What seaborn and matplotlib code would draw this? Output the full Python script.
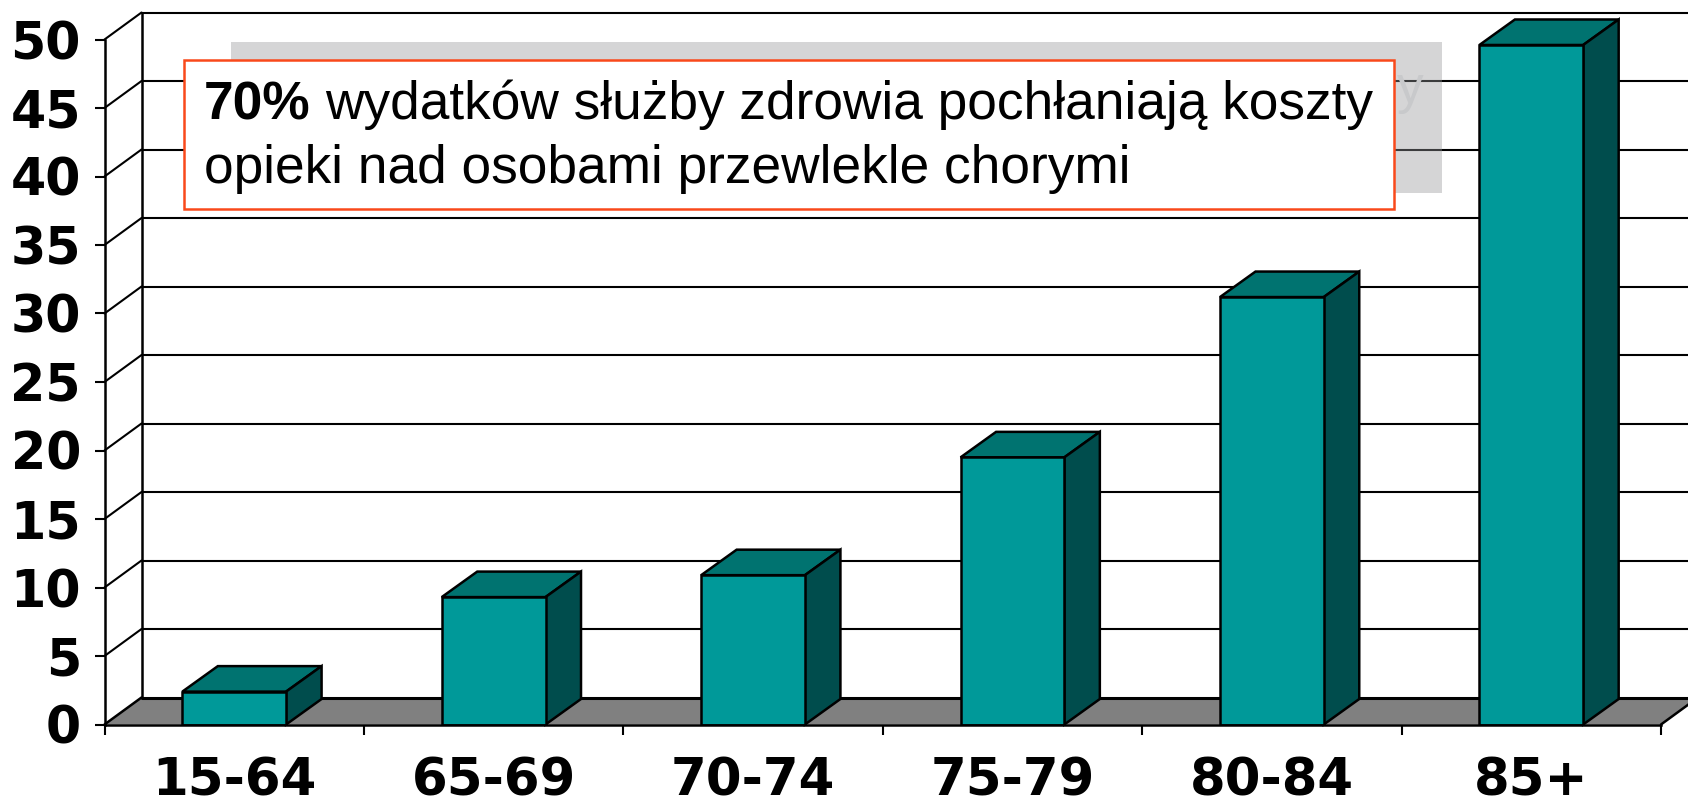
import matplotlib
matplotlib.use("Agg")
import matplotlib.pyplot as plt
from matplotlib.patches import Polygon, Rectangle
import seaborn as sns
import pandas as pd

categories = ["15-64", "65-69", "70-74", "75-79", "80-84", "85+"]
values = [2.4, 9.3, 10.9, 19.5, 31.2, 49.6]
yticks = list(range(0, 55, 5))
note_bold = "70%"
note_line1 = "wydatków służby zdrowia pochłaniają koszty"
note_line2 = "opieki nad osobami przewlekle chorymi"

W, H = 1688, 797
L, R, T, B = 104.5, 1661, 39.5, 724.5
FRONT, TOP, SIDE, FLOOR = "#009999", "#007370", "#004D4D", "#808080"
LW = 1.8

sns.set_theme(style="white")
plt.rcParams["font.family"] = ["DejaVu Sans"]
fig = plt.figure(figsize=(W / 100, H / 100), dpi=100, facecolor="white")
ax = fig.add_axes([L / W, 1 - B / H, (R - L) / W, (B - T) / H])

df = pd.DataFrame({"cat": categories, "val": values})
sns.barplot(data=df, x="cat", y="val", color=FRONT, saturation=1, width=0.40,
            edgecolor="black", linewidth=LW, ax=ax, zorder=5)
ax.set_xlim(-0.5, 5.5)
ax.set_ylim(0, 50)
ax.set_xlabel("")
ax.set_ylabel("")
ax.patch.set_alpha(0)
for s in ["top", "right"]:
    ax.spines[s].set_visible(False)
for s in ["left", "bottom"]:
    ax.spines[s].set_linewidth(LW)
    ax.spines[s].set_color("black")
    ax.spines[s].set_zorder(6)

# 3-D depth expressed in data units
DX = 37 / ((R - L) / 6)
DY = 27 / ((B - T) / 50)
BAR_DX = 35.5 / ((R - L) / 6)
BAR_DY = 25.5 / ((B - T) / 50)
x0, x1 = -0.5, 5.5

ax.add_patch(Polygon([(x0, 0), (x1, 0), (x1 + DX, DY), (x0 + DX, DY)], closed=True,
                     facecolor=FLOOR, edgecolor="none", zorder=1, clip_on=False))
ax.plot([x0 + DX, x1 + DX], [DY, DY], color="black", lw=2.2, zorder=2, clip_on=False)
ax.plot([x1, x1 + DX], [0, DY], color="black", lw=LW, zorder=2, clip_on=False)
ax.plot([x0, x0 + DX], [0, DY], color="black", lw=LW, zorder=2, clip_on=False)
ax.plot([x0 + DX, x0 + DX], [DY, 50 + DY], color="black", lw=LW, zorder=2, clip_on=False)
for t in yticks[1:]:
    ax.plot([x0, x0 + DX], [t, t + DY], color="black", lw=1.5, zorder=2, clip_on=False)
    ax.plot([x0 + DX, x1 + DX], [t + DY, t + DY], color="black", lw=1.5, zorder=2, clip_on=False)

for bar, v in zip(ax.patches[:len(values)], values):
    a, b = bar.get_x(), bar.get_x() + bar.get_width()
    ax.add_patch(Polygon([(a, v), (b, v), (b + BAR_DX, v + BAR_DY), (a + BAR_DX, v + BAR_DY)], closed=True,
                         facecolor=TOP, edgecolor="black", lw=LW, zorder=4, clip_on=False))
    ax.add_patch(Polygon([(b, 0), (b, v), (b + BAR_DX, v + BAR_DY), (b + BAR_DX, BAR_DY)], closed=True,
                         facecolor=SIDE, edgecolor="black", lw=LW, zorder=4, clip_on=False))

ax.set_yticks(yticks)
ax.set_xticks(range(len(categories)))
ax.set_xticklabels(categories)
ax.set_xticks([x0 + i for i in range(7)], minor=True)
ax.tick_params(axis="x", which="major", length=0, pad=23, labelsize=37)
ax.tick_params(axis="x", which="minor", length=7, width=1.5, color="black", bottom=True)
ax.tick_params(axis="y", length=7, width=1.5, color="black", left=True, pad=10, labelsize=36.5)
for lab in ax.get_xticklabels() + ax.get_yticklabels():
    lab.set_fontweight("bold")
    lab.set_color("black")

def px(x, y):
    return x / W, 1 - y / H

# callout: shadow, the one letter of shadow text that shows past the box, box, text
fig.add_artist(Rectangle(px(230.5, 193), (1442 - 230.5) / W, (193 - 42) / H, transform=fig.transFigure,
                         facecolor="#969799", alpha=0.4, edgecolor="none", zorder=7))
fig.text(*px(1397, 103), note_line1[-1], family="Liberation Sans", fontsize=38.3,
         color="#C8C9CB", zorder=7.5, va="baseline")
fig.add_artist(Rectangle(px(183.5, 208.5), (1393.5 - 183.5) / W, (208.5 - 59.5) / H, transform=fig.transFigure,
                         facecolor="white", edgecolor="#F9491B", lw=1.8, zorder=8))
fig.text(*px(204, 119), note_bold, family="Liberation Sans", fontweight="bold", fontsize=38.3,
         color="black", zorder=9, va="baseline")
fig.text(*px(325, 119), note_line1, family="Liberation Sans", fontsize=38.3,
         color="black", zorder=9, va="baseline")
fig.text(*px(204, 183), note_line2, family="Liberation Sans", fontsize=38.3,
         color="black", zorder=9, va="baseline")

fig.savefig("out.png", dpi=100)
